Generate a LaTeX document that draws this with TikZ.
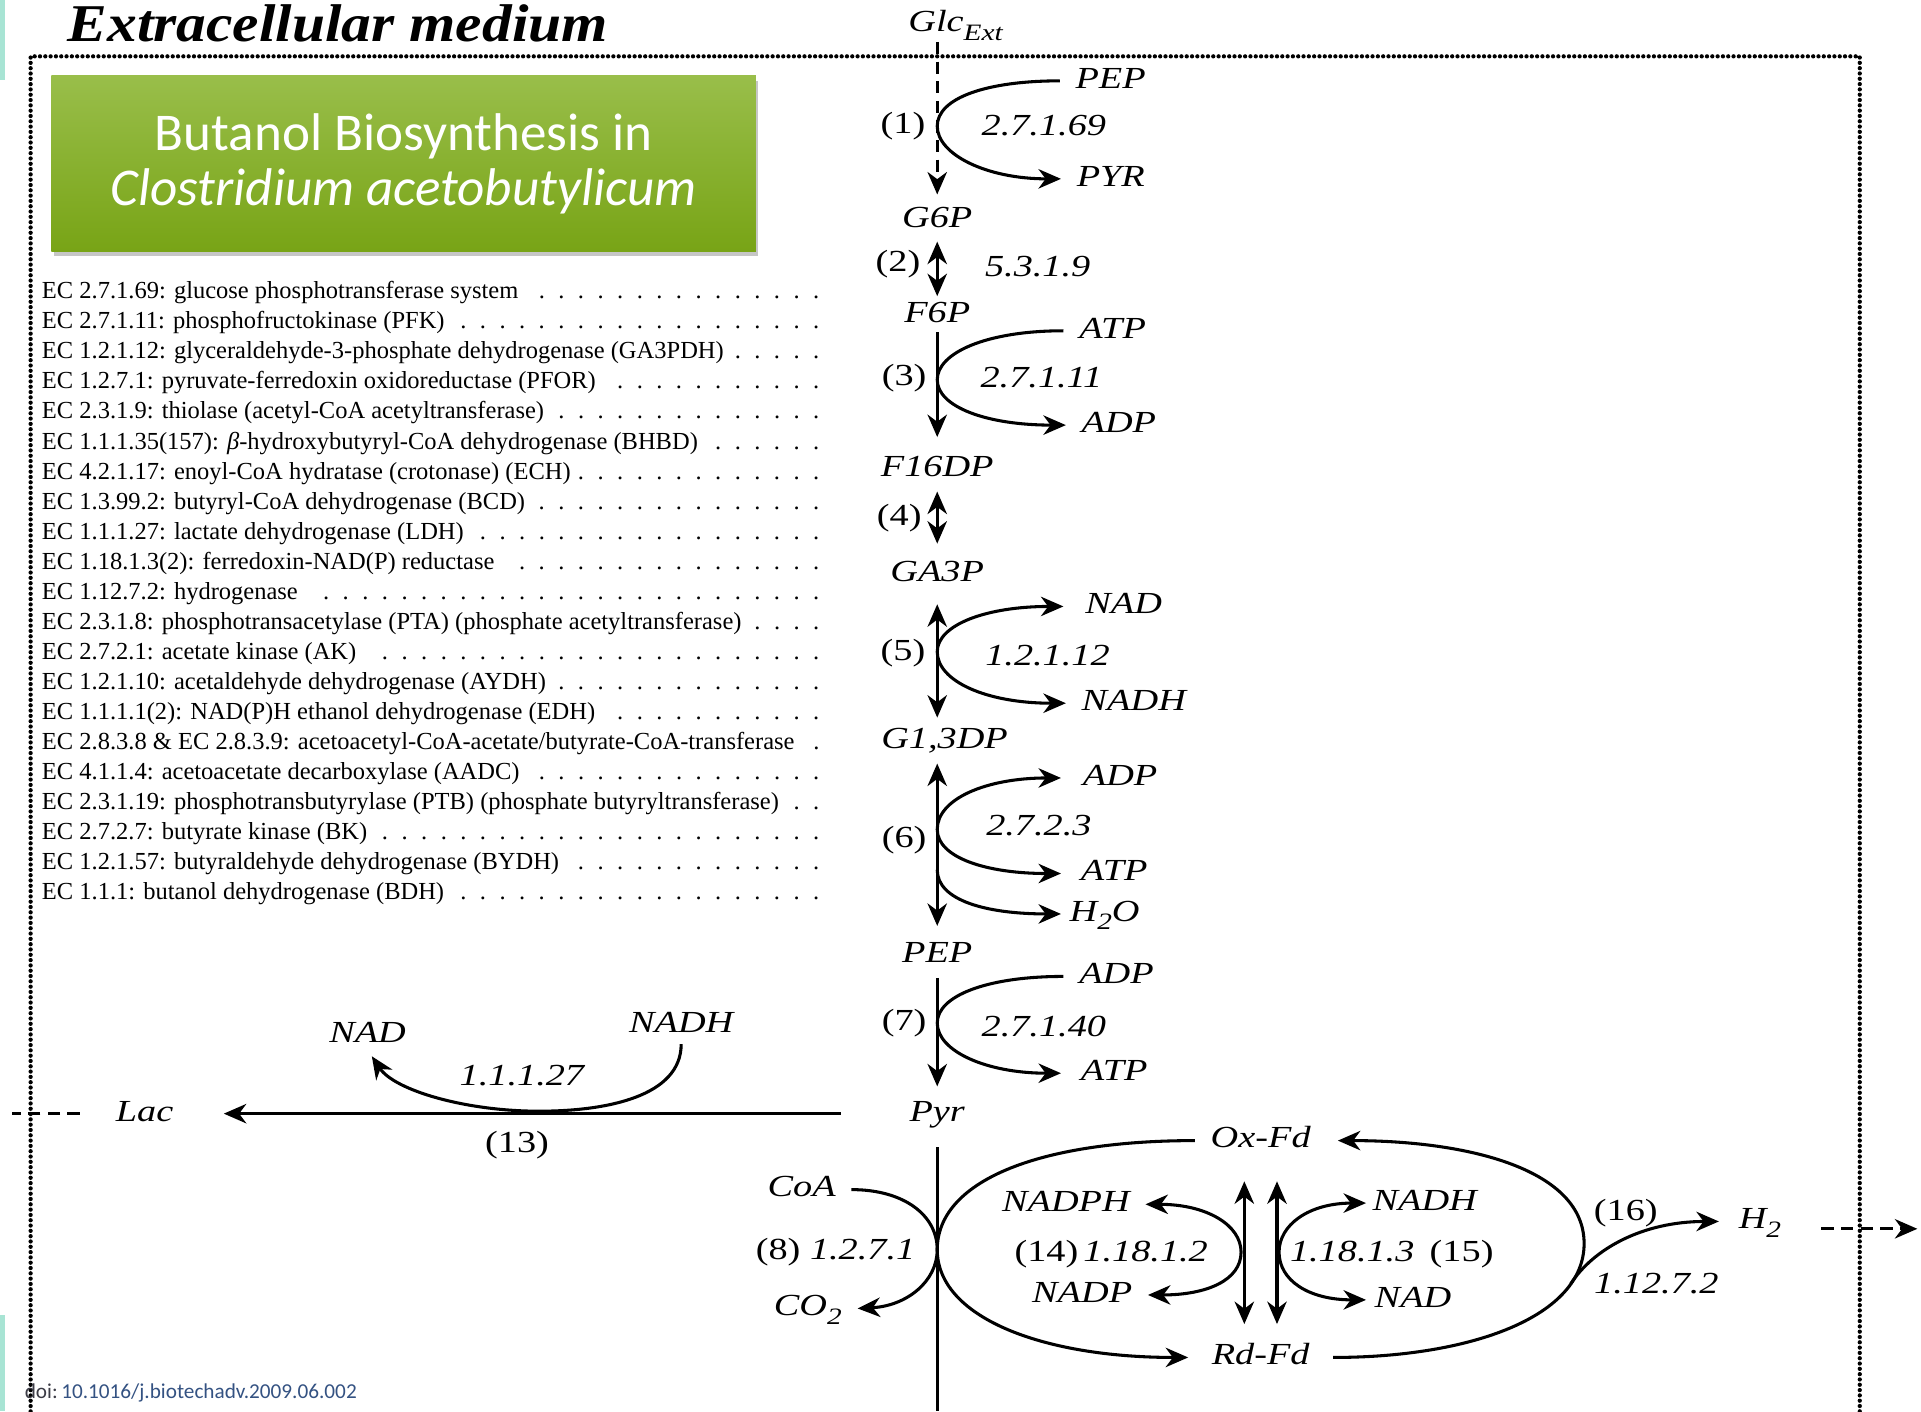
\documentclass[tikz,border=0pt]{standalone}
\usepackage{fontspec}
\setmainfont{Liberation Serif}
\newfontfamily\pathfont[FakeStretch=1.25]{Liberation Serif}
\newfontfamily\listfont{Liberation Serif}
\newfontfamily\headfont[FakeStretch=1.12]{Liberation Serif}
\newfontfamily\boxfont{Carlito}
\usetikzlibrary{arrows.meta,shadows}

\definecolor{boxtop}{RGB}{153,190,74}
\definecolor{boxbottom}{RGB}{120,164,22}
\definecolor{tealbar}{RGB}{168,228,212}
\definecolor{doiblue}{RGB}{52,82,130}
\definecolor{doigray}{RGB}{60,60,70}

\newcommand{\lsub}[1]{\raisebox{-4.2pt}{\fontsize{11.5}{11.5}\selectfont #1}}
\newcommand{\ecdots}{\leaders\hbox to 9.6pt{\hss.\hss}\hfill}
\newcommand{\ecline}[1]{\makebox[386pt][l]{#1\ecdots}}

\begin{document}
\begin{tikzpicture}[x=0.6pt, y=-0.6pt, line width=1.5pt,
    >={Stealth[length=11pt,width=9.5pt,inset=3.5pt]},
    met/.style={font=\pathfont\itshape\fontsize{15}{17}\selectfont,
      inner xsep=0pt, inner ysep=0pt, text height=10pt, text depth=2.8pt},
    num/.style={met, font=\pathfont\upshape\fontsize{15}{17}\selectfont},
    cof/.style={met, inner xsep=7pt},
    rside/.style={cof, anchor=west},
    lside/.style={cof, anchor=east},
    ecitem/.style={anchor=base west, inner sep=0pt,
      font=\listfont\fontsize{12}{13}\selectfont},
    dashline/.style={dash pattern=on 6pt off 3.6pt},
    dotline/.style={line width=2.1pt, line cap=round, dash pattern=on 0pt off 2.6pt},
    titlebox/.style={draw=none, top color=boxtop, bottom color=boxbottom,
      minimum width=345pt, minimum height=85.8pt, text=white, align=center,
      font=\boxfont\fontsize{26}{30}\selectfont,
      drop shadow={shadow xshift=1.2pt, shadow yshift=-2.4pt, opacity=0.45}}]

  \useasboundingbox (0,0) rectangle (1568,1152);
  \fill[tealbar] (0,0) rectangle (4,65);
  \fill[tealbar] (0,1073) rectangle (4,1152);

  \node[anchor=base west, inner sep=0pt,
    font=\headfont\bfseries\itshape\fontsize{26}{26}\selectfont] (medium) at (54,34)
    {Extracellular medium};
  \draw[dotline] (25,1152) -- (25,46) -- (1518,46) -- (1518,1152);

  \node[titlebox] (title) at (329.5,133.5)
    {\raisebox{-3pt}{Butanol Biosynthesis in}\\\textit{Clostridium acetobutylicum}};

  \foreach \ectxt [count=\i] in {
      {EC 2.7.1.69: glucose phosphotransferase system},
      {EC 2.7.1.11: phosphofructokinase (PFK)},
      {EC 1.2.1.12: glyceraldehyde-3-phosphate dehydrogenase (GA3PDH)},
      {EC 1.2.7.1: pyruvate-ferredoxin oxidoreductase (PFOR)},
      {EC 2.3.1.9: thiolase (acetyl-CoA acetyltransferase)},
      {EC 1.1.1.35(157): {\itshape β}-hydroxybutyryl-CoA dehydrogenase (BHBD)},
      {EC 4.2.1.17: enoyl-CoA hydratase (crotonase) (ECH)},
      {EC 1.3.99.2: butyryl-CoA dehydrogenase (BCD)},
      {EC 1.1.1.27: lactate dehydrogenase (LDH)},
      {EC 1.18.1.3(2): ferredoxin-NAD(P) reductase},
      {EC 1.12.7.2: hydrogenase},
      {EC 2.3.1.8: phosphotransacetylase (PTA) (phosphate acetyltransferase)},
      {EC 2.7.2.1: acetate kinase (AK)},
      {EC 1.2.1.10: acetaldehyde dehydrogenase (AYDH)},
      {EC 1.1.1.1(2): NAD(P)H ethanol dehydrogenase (EDH)},
      {EC 2.8.3.8 \& EC 2.8.3.9: acetoacetyl-CoA-acetate/butyrate-CoA-transferase},
      {EC 4.1.1.4: acetoacetate decarboxylase (AADC)},
      {EC 2.3.1.19: phosphotransbutyrylase (PTB) (phosphate butyryltransferase)},
      {EC 2.7.2.7: butyrate kinase (BK)},
      {EC 1.2.1.57: butyraldehyde dehydrogenase (BYDH)},
      {EC 1.1.1: butanol dehydrogenase (BDH)}}
    \node[ecitem] (ec\i) at (33,{244+24.5*(\i-1)}) {\ecline{\ectxt}};

  % glycolysis
  \node[met] (glcext) at (780,20) {Glc\lsub{Ext}};
  \node[met] (g6p) at (765,180) {G6P};
  \node[met] (f6p) at (765,257) {F6P};
  \node[met] (f16dp) at (765,383) {F16DP};
  \node[met] (ga3p) at (765,469) {GA3P};
  \node[met] (g13dp) at (771,605) {G1,3DP};
  \node[met] (pep) at (765,780) {PEP};
  \node[met] (pyr) at (765,909) {Pyr};
  \coordinate (pyrout) at (765,1152);

  \draw[->, dashline, shorten <=1.4pt, shorten >=5.6pt] (glcext.south -| g6p) -- (g6p);
  \draw[<->, shorten <=3.2pt, shorten >=2pt] (g6p) -- (f6p);
  \draw[->, shorten <=1.4pt, shorten >=8.6pt] (f6p) -- (f16dp);
  \draw[<->, shorten <=3.8pt, shorten >=8pt] (f16dp) -- (ga3p);
  \draw[<->, shorten <=7.4pt, shorten >=4.4pt] (ga3p) -- (g13dp.north -| ga3p);
  \draw[<->, shorten <=3.8pt, shorten >=7.4pt] (g13dp.south -| pep) -- (pep);
  \draw[->, shorten <=3.8pt, shorten >=6.2pt] (pep) -- (pyr);
  \draw[shorten <=9.2pt] (pyr) -- (pyrout);

  \node[num] (s1) at (737,103) {(1)};
  \node[num] (s2) at (733,216) {(2)};
  \node[num] (s3) at (738,309) {(3)};
  \node[num] (s4) at (734,423) {(4)};
  \node[num] (s5) at (737,533) {(5)};
  \node[num] (s6) at (738,686) {(6)};
  \node[num] (s7) at (738,835) {(7)};

  \node[met] (e1) at (852,105) {2.7.1.69};
  \node[met] (e2) at (847,220) {5.3.1.9};
  \node[met] (e3) at (850,310) {2.7.1.11};
  \node[met] (e5) at (855,537) {1.2.1.12};
  \node[met] (e6) at (848,676) {2.7.2.3};
  \node[met] (e7) at (852,840) {2.7.1.40};

  \node[rside] (pep1) at (865,66) {PEP};
  \node[rside] (pyr1) at (866,146) {PYR};
  \node[rside] (atp3) at (868,270) {ATP};
  \node[rside] (adp3) at (870,347) {ADP};
  \node[rside, inner xsep=10pt] (nad5) at (868,495) {NAD};
  \node[rside] (nadh5) at (870,574) {NADH};
  \node[rside, inner xsep=10pt] (adp6) at (866,635) {ADP};
  \node[rside, inner xsep=9pt] (atp6) at (866,713) {ATP};
  \node[rside, inner xsep=3.5pt] (h2o6) at (866,746) {H\lsub{2}O};
  \node[rside] (adp7) at (868,797) {ADP};
  \node[rside, inner xsep=9pt] (atp7) at (866,876) {ATP};

  \coordinate (k1) at (765,103);
  \coordinate (k3) at (765,310);
  \coordinate (k5) at (765,532);
  \coordinate (k6) at (765,677);
  \coordinate (k6b) at (765,710);
  \coordinate (k7) at (765,835);

  \draw[->] (pep1.west) .. controls (805,66) and (765,80) .. (k1)
    .. controls (765,126) and (805,146) .. (pyr1.west);
  \draw[->] (atp3.west) .. controls (805,270) and (765,288) .. (k3)
    .. controls (765,332) and (805,347) .. (adp3.west);
  \draw[<->] (nad5.west) .. controls (805,495) and (765,510) .. (k5)
    .. controls (765,556) and (805,574) .. (nadh5.west);
  \draw[<->] (adp6.west) .. controls (805,635) and (765,652) .. (k6)
    .. controls (765,700) and (805,713) .. (atp6.west);
  \draw[->] (k6b) .. controls (765,735) and (805,746) .. (h2o6.west);
  \draw[->] (adp7.west) .. controls (805,797) and (765,813) .. (k7)
    .. controls (765,858) and (805,876) .. (atp7.west);

  % lactate
  \node[met] (lac) at (118,909) {Lac};
  \coordinate (lacout) at (10,909);
  \draw[->, shorten <=33pt, shorten >=24pt] (pyr) -- (lac);
  \draw[dashline, shorten <=17pt] (lac) -- (lacout);
  \node[num] (s13) at (422,935) {(13)};
  \node[met] (nad13) at (300,845) {NAD};
  \node[met] (nadh13) at (556,837) {NADH};
  \node[met] (e13) at (426,880) {1.1.1.27};
  \coordinate (k13) at (440,907);
  \draw[->, shorten <=2pt, shorten >=3.8pt] (nadh13.south)
    .. controls (556,895) and (495,907) .. (k13)
    .. controls (380,907) and (322,890) .. (nad13.south);

  % pyruvate and ferredoxin
  \node[lside] (coa) at (695,971) {CoA};
  \node[lside] (co2) at (700,1068) {CO\lsub{2}};
  \node[num] (s8) at (682,1022) {(8) \textit{1.2.7.1}};
  \coordinate (k8) at (765,1020);
  \draw[->] (coa.east) .. controls (738,971) and (765,992) .. (k8)
    .. controls (765,1046) and (740,1066) .. (co2.east);

  \node[cof] (oxfd) at (1029,931) {Ox-Fd};
  \node[cof] (rdfd) at (1029,1108) {Rd-Fd};
  \draw[->, shorten >=3.8pt] (oxfd.west) .. controls (845,931) and (765,965) .. (k8)
    .. controls (765,1075) and (850,1108) .. (rdfd.west);
  \coordinate (k16) at (1293,1015);
  \draw[->, shorten <=3.8pt, shorten >=5.6pt] (rdfd.east)
    .. controls (1200,1108) and (1293,1075) .. (k16)
    .. controls (1293,955) and (1200,931) .. (oxfd.east);

  \draw[<->, shorten <=12.8pt, shorten >=9.2pt] ([xshift=-8pt]oxfd.south) -- ([xshift=-8pt]rdfd.north);
  \draw[<->, shorten <=12.8pt, shorten >=9.2pt] ([xshift=8pt]oxfd.south) -- ([xshift=8pt]rdfd.north);

  \node[lside] (nadph) at (935,983) {NADPH};
  \node[lside] (nadp) at (937,1057) {NADP};
  \node[num] (s14) at (907,1024) {(14)\,\textit{1.18.1.2}};
  \coordinate (k14) at (1013,1022);
  \draw[<->] (nadph.east) .. controls (985,983) and (1013,1000) .. (k14)
    .. controls (1013,1045) and (985,1057) .. (nadp.east);

  \node[rside, inner xsep=2.5pt] (nadh15) at (1115,982) {NADH};
  \node[rside, inner xsep=3.5pt] (nad15) at (1115,1061) {NAD};
  \node[num] (s15) at (1136,1024) {\textit{1.18.1.3}\enspace(15)};
  \coordinate (k15) at (1044,1022);
  \draw[<->] (nadh15.west) .. controls (1068,982) and (1044,1000) .. (k15)
    .. controls (1044,1045) and (1068,1061) .. (nad15.west);

  % hydrogen
  \node[rside, inner xsep=9pt] (h2) at (1403,997) {H\lsub{2}};
  \node[num] (s16) at (1327,990) {(16)};
  \node[met] (e16) at (1352,1050) {1.12.7.2};
  \coordinate (k16b) at (1282,1048);
  \draw[->] (k16b) .. controls (1300,1020) and (1340,997) .. (h2.west);
  \coordinate (h2out) at (1565,1003);
  \draw[->, dashline, shorten <=10pt] (h2.east |- h2out) -- (h2out);

  \node[anchor=west, inner sep=0pt, font=\boxfont\fontsize{10.4}{11}\selectfont] (doi) at (19,1137)
    {\textcolor{doigray}{doi:}\,\textcolor{doiblue}{10.1016/j.biotechadv.2009.06.002}};
\end{tikzpicture}
\end{document}
